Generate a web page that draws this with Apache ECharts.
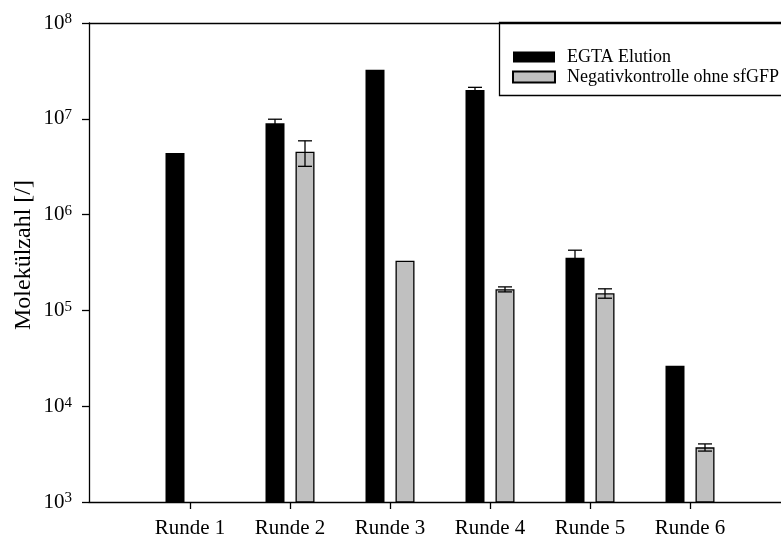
<!DOCTYPE html>
<html>
<head>
<meta charset="utf-8">
<script src="https://cdn.jsdelivr.net/npm/echarts@6/dist/echarts.min.js"></script>
<style>
html,body{margin:0;padding:0;background:#fff;}
#c{width:781px;height:542px;}
</style>
</head>
<body>
<div id="c"></div>
<script>
const categories = ['Runde 1', 'Runde 2', 'Runde 3', 'Runde 4', 'Runde 5', 'Runde 6'];
const seriesNames = ['EGTA Elution', 'Negativkontrolle ohne sfGFP'];
const egtaValues = [4.4e6, 9.0e6, 3.26e7, 2.0e7, 3.55e5, 2.65e4];
const egtaErrors = [0, 0.9e6, 0, 1.3e6, 7e4, 0];
const negValues = [null, 4.54e6, 3.3e5, 1.66e5, 1.51e5, 3.72e3];
const negErrors = [0, 1.35e6, 0, 1.0e4, 1.7e4, 3.2e2];
const yMin = 1e3, yMax = 1e8;

const FONT = "'Liberation Serif','Times New Roman',serif";
const BAR_W = 19;
const BAR_GAP = 11;
const OFFSET = (BAR_W + BAR_GAP) / 2;

function errorSeries(vals, errs, dx) {
  const data = vals.map((v, i) => [i, v, errs[i]]);
  return {
    type: 'custom',
    xAxisIndex: 2, yAxisIndex: 1,
    z: 10,
    silent: true,
    data: data,
    renderItem: function (params, api) {
      const i = api.value(0), v = api.value(1), e = api.value(2);
      if (v == null || isNaN(v) || !e) return null;
      const top = api.coord([i, v + e]);
      const bot = api.coord([i, v - e]);
      const x = top[0] + dx;
      const cw = 7;
      const st = { stroke: '#000', lineWidth: 1.3 };
      return {
        type: 'group',
        children: [
          { type: 'line', shape: { x1: x, y1: top[1], x2: x, y2: bot[1] }, style: st },
          { type: 'line', shape: { x1: x - cw, y1: top[1], x2: x + cw, y2: top[1] }, style: st },
          { type: 'line', shape: { x1: x - cw, y1: bot[1], x2: x + cw, y2: bot[1] }, style: st }
        ]
      };
    }
  };
}

const chart = echarts.init(document.getElementById('c'), null, { renderer: 'canvas' });
chart.setOption({
  animation: false,
  backgroundColor: '#fff',
  textStyle: { fontFamily: FONT },
  grid: [
    { left: 89, right: 0, top: 23, bottom: 40 },
    { left: 140, width: 600, top: 23, bottom: 40 }
  ],
  xAxis: [
    { gridIndex: 0, type: 'value', min: 0, max: 1, position: 'bottom',
      axisLine: { show: true, onZero: false, lineStyle: { color: '#000', width: 1.3 } },
      axisTick: { show: false }, axisLabel: { show: false }, splitLine: { show: false } },
    { gridIndex: 0, type: 'value', min: 0, max: 1, position: 'top',
      axisLine: { show: true, onZero: false, lineStyle: { color: '#000', width: 1.3 } },
      axisTick: { show: false }, axisLabel: { show: false }, splitLine: { show: false } },
    { gridIndex: 1, type: 'category', data: categories, position: 'bottom',
      axisLine: { show: false },
      axisTick: { show: true, alignWithLabel: true, length: 7, lineStyle: { color: '#000', width: 1.3 } },
      axisLabel: { color: '#000', fontSize: 21, fontFamily: FONT, margin: 16, interval: 0 },
      splitLine: { show: false } }
  ],
  yAxis: [
    { gridIndex: 0, type: 'log', logBase: 10, min: yMin, max: yMax,
      axisLine: { show: true, onZero: false, lineStyle: { color: '#000', width: 1.3 } },
      axisTick: { show: true, length: 7, lineStyle: { color: '#000', width: 1.3 } },
      minorTick: { show: false },
      splitLine: { show: false },
      axisLabel: {
        color: '#000', fontSize: 21, fontFamily: FONT, margin: 17,
        formatter: function (v) { return '10{s|' + Math.round(Math.log10(v)) + '}'; },
        rich: { s: { fontSize: 15, fontFamily: FONT, color: '#000', padding: [0, 0, 7, 0] } }
      } },
    { gridIndex: 1, type: 'log', logBase: 10, min: yMin, max: yMax, show: false }
  ],
  legend: {
    orient: 'vertical', left: 512, top: 47, padding: 0,
    icon: 'rect',
    itemWidth: 42, itemHeight: 11, itemGap: 0,
    textStyle: { fontSize: 18, fontFamily: FONT, color: '#000', lineHeight: 20, padding: [0, 0, 0, 7] },
    data: seriesNames
  },
  graphic: [
    { type: 'rect', shape: { x: 499.5, y: 22.5, width: 320, height: 73 },
      style: { fill: 'rgba(0,0,0,0)', stroke: '#000', lineWidth: 1.3 }, z: 100, silent: true },
    { type: 'text', x: 24, y: 255, rotation: Math.PI / 2,
      style: { text: 'Molekülzahl [/]', fontSize: 24, fontFamily: FONT, fill: '#000',
               align: 'center', verticalAlign: 'middle' } }
  ],
  series: [
    { name: seriesNames[0], type: 'bar', xAxisIndex: 2, yAxisIndex: 1,
      data: egtaValues, barWidth: BAR_W, barGap: (BAR_GAP / BAR_W * 100) + '%',
      itemStyle: { color: '#000', borderColor: '#000', borderWidth: 0 } },
    { name: seriesNames[1], type: 'bar', xAxisIndex: 2, yAxisIndex: 1,
      data: negValues, barWidth: BAR_W, barGap: (BAR_GAP / BAR_W * 100) + '%',
      itemStyle: { color: '#c0c0c0', borderColor: '#000', borderWidth: 1.3 } },
    errorSeries(egtaValues, egtaErrors, -OFFSET),
    errorSeries(negValues, negErrors, OFFSET)
  ]
});
</script>
</body>
</html>
